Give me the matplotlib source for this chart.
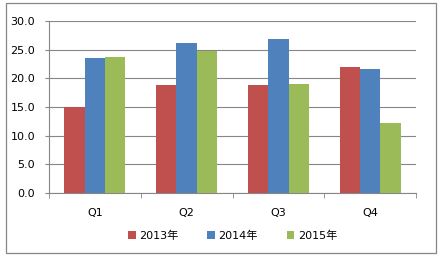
import matplotlib.pyplot as plt
import numpy as np
from matplotlib.patches import Rectangle

plt.rcParams['font.family'] = ['DejaVu Sans', 'Noto Sans CJK SC']

quarters = ["Q1", "Q2", "Q3", "Q4"]
years = ["2013年", "2014年", "2015年"]
v2013 = [15.0, 18.8, 18.9, 22.0]
v2014 = [23.6, 26.2, 26.9, 21.6]
v2015 = [23.8, 24.8, 19.0, 12.2]
colors = ["#C0504D", "#4F81BD", "#9BBB59"]

fig = plt.figure(figsize=(4.44, 2.56), dpi=100)
ax = fig.add_axes([49 / 444, 1 - 193 / 256, 367 / 444, 172 / 256])

x = np.arange(len(quarters))
w = 1 / 4.5
for i, (vals, lab) in enumerate(zip([v2013, v2014, v2015], years)):
    ax.bar(x + (i - 1) * w, vals, w, color=colors[i], label=lab, zorder=3)

ax.set_xlim(-0.5, 3.5)
ax.set_ylim(0, 30)
ax.set_yticks(np.arange(0, 31, 5))
ax.set_yticklabels([f"{t:.1f}" for t in np.arange(0, 31, 5)], fontsize=8)
ax.set_xticks(x)
ax.set_xticklabels(quarters, fontsize=8)
ax.set_xticks(np.arange(-0.5, 4, 1), minor=True)
ax.tick_params(axis="x", which="major", length=0, pad=11)
ax.tick_params(axis="x", which="minor", length=3.5, color="#868686", direction="out")
ax.tick_params(axis="y", length=3, color="#868686", pad=7)
ax.grid(axis="y", color="#868686", linewidth=0.8, zorder=0)
for s in ["top", "right"]:
    ax.spines[s].set_visible(False)
for s in ["left", "bottom"]:
    ax.spines[s].set_color("#868686")
    ax.spines[s].set_linewidth(0.8)

ax.legend(loc="center", bbox_to_anchor=(0.5, -0.25), ncol=3, frameon=False,
          fontsize=8, handlelength=0.7, handleheight=0.7, handletextpad=0.3,
          columnspacing=2.6)

fig.patches.append(Rectangle((6 / 444, 3 / 256), 430 / 444, 250 / 256,
                             transform=fig.transFigure, fill=False,
                             edgecolor="#868686", linewidth=0.9))

fig.savefig("out.png", dpi=100)
